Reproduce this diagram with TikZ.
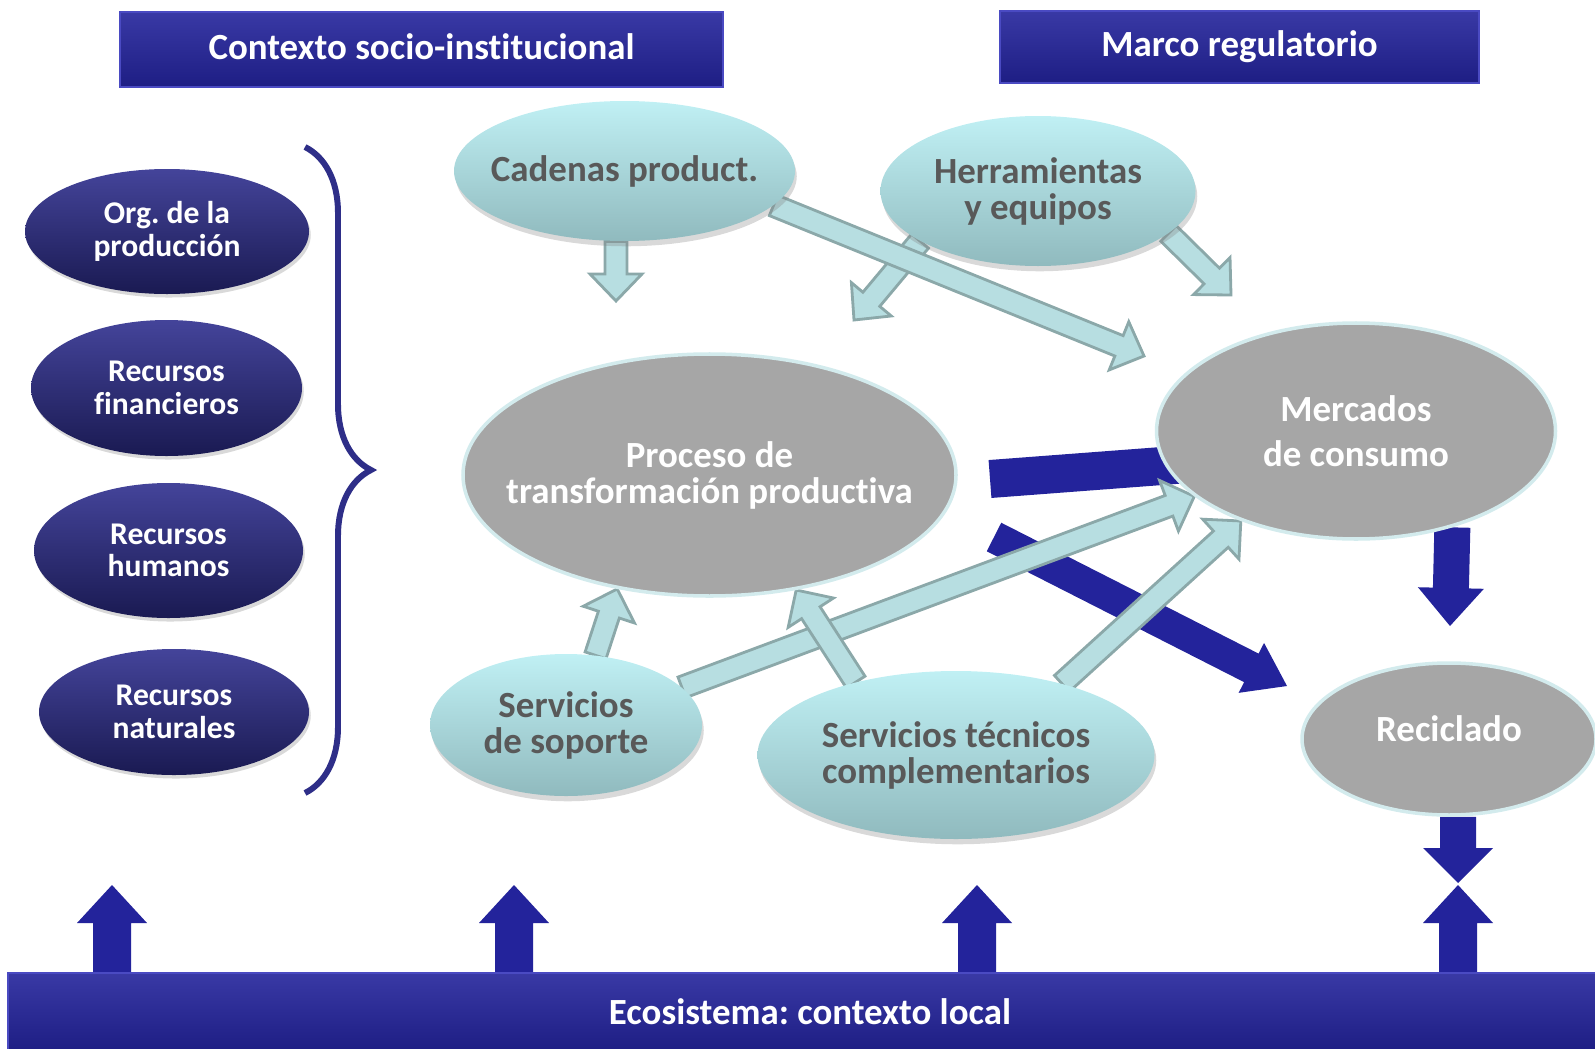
\documentclass[tikz,border=0pt]{standalone}
\usepackage{fontspec}
\setmainfont{Carlito}[Ligatures=NoCommon]
\usetikzlibrary{shapes.geometric,calc,backgrounds,shadows,decorations.pathreplacing}
\frenchspacing

\definecolor{navy}{HTML}{23239B}
\definecolor{navyrim}{HTML}{4A4AC2}
\definecolor{navytop}{HTML}{44449A}
\definecolor{navymid}{HTML}{272774}
\definecolor{navybot}{HTML}{1A1A52}
\definecolor{aqua}{HTML}{B7DEE1}
\definecolor{aquaedge}{HTML}{8BA8A9}
\definecolor{aquatop}{HTML}{C0F0F4}
\definecolor{aquabot}{HTML}{90BABE}
\definecolor{stone}{HTML}{A6A6A6}
\definecolor{stoneedge}{HTML}{D3EBED}
\definecolor{ink}{HTML}{595959}
\definecolor{bracecol}{HTML}{2E2E88}

% block arrow: style, tail, tip, shaft half width, head half width, head length (px)
\newcommand{\blockarrow}[6]{%
  \coordinate (hb) at ($(#3)!#6*0.02cm!(#2)$);
  \path[#1] ($(#2)!#4*0.02cm!90:(#3)$) -- ($(hb)!#4*0.02cm!-90:(#2)$)
    -- ($(hb)!#5*0.02cm!-90:(#2)$) -- (#3)
    -- ($(hb)!#5*0.02cm!90:(#2)$) -- ($(hb)!#4*0.02cm!90:(#2)$)
    -- ($(#2)!#4*0.02cm!-90:(#3)$) -- cycle;
}

\begin{document}
\begin{tikzpicture}[
    x=0.02cm, y=-0.02cm,
    banner/.style={rectangle, inner sep=0pt, text=white, top color=navy!90!white, bottom color=navy!85!black,
      draw=navyrim, line width=0.8pt, font=\fontsize{21pt}{21pt}\selectfont\bfseries},
    darkdisc/.style={ellipse, inner sep=-1.5cm, align=center, text=white,
      top color=navytop, middle color=navymid, bottom color=navybot,
      drop shadow={opacity=0.3, shadow xshift=1pt, shadow yshift=-2pt},
      font=\fontsize{18pt}{18.5pt}\selectfont\bfseries},
    aquadisc/.style={ellipse, inner sep=-1.5cm, align=center, text=ink,
      top color=aquatop, bottom color=aquabot,
      drop shadow={opacity=0.3, shadow xshift=1pt, shadow yshift=-3pt},
      font=\fontsize{21pt}{20.5pt}\selectfont\bfseries},
    stonedisc/.style={ellipse, inner sep=-1.5cm, align=center, text=white,
      fill=stone, draw=stoneedge, line width=2pt,
      font=\fontsize{21pt}{20.5pt}\selectfont\bfseries},
    lightarrow/.style={fill=aqua, draw=aquaedge, line width=1.6pt, line join=miter},
    darkarrow/.style={fill=navy}
]
    \useasboundingbox (0,0) rectangle (1595,1048);

    % banners
    \node[banner, minimum width=603*0.02cm, minimum height=75*0.02cm] (ctx) at (421.5,49.5) {\raisebox{0.12cm}{Contexto socio-institucional}};
    \node[banner, minimum width=479*0.02cm, minimum height=72*0.02cm] (reg) at (1239.5,47) {Marco regulatorio};
    \node[banner, minimum width=1604*0.02cm, minimum height=78*0.02cm] (eco) at (810,1012) {Ecosistema: contexto local};

    % resources
    \node[darkdisc, minimum width=284*0.02cm, minimum height=125*0.02cm] (org) at (167,231.5) {Org. de la\\producción};
    \node[darkdisc, minimum width=271*0.02cm, minimum height=136*0.02cm] (fin) at (166.5,388) {Recursos\\financieros};
    \node[darkdisc, minimum width=269*0.02cm, minimum height=135*0.02cm] (hum) at (168.5,550.5) {Recursos\\humanos};
    \node[darkdisc, minimum width=270*0.02cm, minimum height=126*0.02cm] (nat) at (174,712) {Recursos\\naturales};
    \draw[bracecol, line width=3.4pt, decorate, decoration={brace, amplitude=1.32cm}] (305,147) -- (305,793);

    % actors
    \node[aquadisc, minimum width=341*0.02cm, minimum height=140*0.02cm] (cad) at (624.5,171) {Cadenas product.};
    \node[aquadisc, minimum width=315*0.02cm, minimum height=150*0.02cm] (her) at (1038,191) {Herramientas\\y equipos};
    \node[aquadisc, minimum width=272*0.02cm, minimum height=142*0.02cm] (sop) at (566,725) {Servicios\\de soporte};
    \node[aquadisc, minimum width=397*0.02cm, minimum height=168*0.02cm] (tec) at (956,755) {Servicios técnicos\\complementarios};

    % flow
    \node[stonedisc, minimum width=493*0.02cm, minimum height=242*0.02cm] (pro) at (709.5,475) {Proceso de\\transformación productiva};
    \node[stonedisc, minimum width=399*0.02cm, minimum height=216*0.02cm] (mer) at (1356,431) {Mercados\\[5pt]de consumo};
    \node[stonedisc, minimum width=294*0.02cm, minimum height=152*0.02cm] (rec) at (1449,739) {\raisebox{0.4cm}{Reciclado}};

    % free arrow ends
    \coordinate (cadtip) at (616,301);
    \coordinate (longtip) at (1144,356);
    \coordinate (lefttip) at (854,320);
    \coordinate (righttip) at (1231,295);
    \coordinate (pmtail) at (990,479);
    \coordinate (pmtip) at (1228,461);
    \coordinate (prtail) at (994,537);
    \coordinate (prtip) at (1287,686);
    \coordinate (mrtip) at (1450,626);
    \coordinate (rdtip) at (1458,883);

    \begin{scope}[on background layer]
        \blockarrow{darkarrow}{pmtail}{pmtip}{19}{33}{40}
        \blockarrow{darkarrow}{prtail}{prtip}{16}{28}{40}
        \blockarrow{darkarrow}{mer.-45}{mrtip}{18}{33}{38}
        \blockarrow{darkarrow}{rdtip |- rec.south}{rdtip}{18}{35}{35}
        \foreach \n/\x in {a/112, b/514, c/977, d/1458} {
            \coordinate (up\n) at (\x,885);
            \blockarrow{darkarrow}{eco.north -| up\n}{up\n}{19}{35}{38}
        }

        \blockarrow{lightarrow}{her.-157}{lefttip}{11}{26}{27}
        \blockarrow{lightarrow}{cad.-13}{longtip}{11}{26}{27}
        \blockarrow{lightarrow}{cadtip |- cad.south}{cadtip}{11}{26}{27}
        \blockarrow{lightarrow}{her.-18}{righttip}{11}{26}{27}
        \blockarrow{lightarrow}{sop.18}{mer.-158}{11}{27}{27}
        \blockarrow{lightarrow}{tec.34}{mer.-142}{11}{27}{27}
        \blockarrow{lightarrow}{sop.67}{pro.-129}{11}{27}{27}
        \blockarrow{lightarrow}{tec.144}{pro.-53}{11}{27}{27}
    \end{scope}
\end{tikzpicture}
\end{document}
